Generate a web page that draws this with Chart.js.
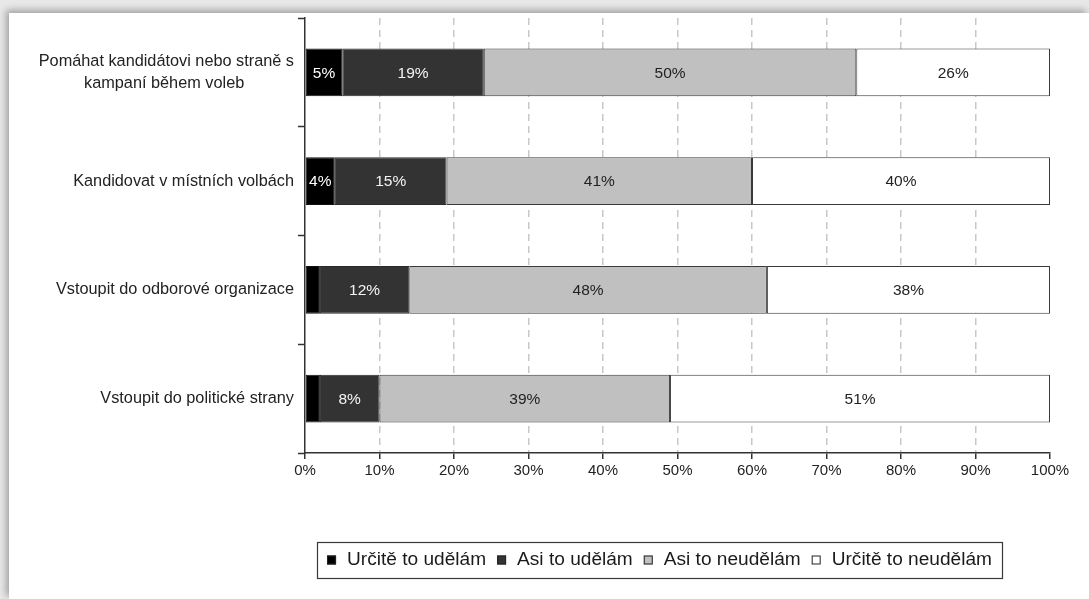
<!DOCTYPE html>
<html>
<head>
<meta charset="utf-8">
<script src="https://cdn.jsdelivr.net/npm/chart.js@4.4.1/dist/chart.umd.min.js"></script>
<style>
html,body{margin:0;padding:0;width:1089px;height:599px;overflow:hidden;background:#e8e8e8;}
#panel{position:absolute;left:9px;top:13px;width:1080px;height:586px;background:#fff;box-shadow:-3px -3px 7px rgba(0,0,0,0.3);}
canvas{display:block;}
</style>
</head>
<body>
<div id="panel"><canvas id="c" width="1080" height="586"></canvas></div>
<script>
// ---- data ----
const categories = [
  ['Pomáhat kandidátovi nebo straně s', 'kampaní během voleb'],
  'Kandidovat v místních volbách',
  'Vstoupit do odborové organizace',
  'Vstoupit do politické strany'
];
const seriesNames = ['Určitě to udělám', 'Asi to udělám', 'Asi to neudělám', 'Určitě to neudělám'];
const urciteUdelam   = [5, 4, 2, 2];
const asiUdelam      = [19, 15, 12, 8];
const asiNeudelam    = [50, 41, 48, 39];
const urciteNeudelam = [26, 40, 38, 51];
const xTickValues = [0, 10, 20, 30, 40, 50, 60, 70, 80, 90, 100];

// ---- styles ----
const FONT = 'Arial, "Liberation Sans", sans-serif';
const fills = ['#000000', '#333333', '#c0c0c0', '#ffffff'];
const borders = ['#111111', '#2a2a2a', '#3a3a3a', '#3a3a3a'];
const labelColors = ['#ffffff', '#f4f4f4', '#222222', '#222222'];
const seriesValues = [urciteUdelam, asiUdelam, asiNeudelam, urciteNeudelam];

const Y_FONT_SIZE = 16.3;
const measureCtx = document.createElement('canvas').getContext('2d');
measureCtx.font = Y_FONT_SIZE + 'px ' + FONT;
function centerLines(label) {
  if (!Array.isArray(label)) return label;
  const widths = label.map(l => measureCtx.measureText(l).width);
  const maxW = Math.max(...widths);
  const sp = measureCtx.measureText('\u00a0').width;
  return label.map((l, i) => l + '\u00a0'.repeat(Math.round((maxW - widths[i]) / 2 / sp)));
}

const barLabels = {
  id: 'barLabels',
  afterDatasetsDraw(chart) {
    const ctx = chart.ctx;
    ctx.save();
    ctx.font = '15.5px ' + FONT;
    ctx.textAlign = 'center';
    ctx.textBaseline = 'middle';
    chart.data.datasets.forEach((ds, i) => {
      const meta = chart.getDatasetMeta(i);
      meta.data.forEach((el, j) => {
        const v = ds.data[j];
        if (v < 4) return;
        const p = el.getProps(['x', 'y', 'base'], true);
        ctx.fillStyle = labelColors[i];
        ctx.fillText(v + '%', (p.x + p.base) / 2, p.y + 1);
      });
    });
    ctx.restore();
  }
};

const boxLegend = {
  id: 'boxLegend',
  afterDraw(chart, args, opts) {
    const ctx = chart.ctx;
    const bx = opts.x, by = opts.y, bw = opts.w, bh = opts.h;
    ctx.save();
    ctx.strokeStyle = '#3a3a3a';
    ctx.lineWidth = 1.2;
    ctx.strokeRect(bx + 0.5, by + 0.5, bw, bh);
    ctx.font = opts.fontSize + 'px ' + FONT;
    ctx.textBaseline = 'middle';
    const sq = 9, g1 = 11, g2 = 11;
    const items = chart.data.datasets.map((ds, i) => ({ text: ds.label, w: ctx.measureText(ds.label).width, fill: ds.backgroundColor }));
    const total = items.reduce((s, it) => s + sq + g1 + it.w, 0) + g2 * (items.length - 1);
    let x = bx + (bw - total) / 2;
    const cy = by + bh / 2;
    items.forEach(it => {
      ctx.fillStyle = it.fill;
      ctx.fillRect(x, cy - sq / 2, sq, sq);
      ctx.strokeStyle = '#222';
      ctx.lineWidth = 1;
      ctx.strokeRect(x + 0.5, cy - sq / 2 + 0.5, sq - 1, sq - 1);
      x += sq + g1;
      ctx.fillStyle = '#1a1a1a';
      ctx.fillText(it.text, x, cy);
      x += it.w + g2;
    });
    ctx.restore();
  }
};

new Chart(document.getElementById('c'), {
  type: 'bar',
  data: {
    labels: categories,
    datasets: seriesValues.map((d, i) => ({
      label: seriesNames[i],
      data: d,
      backgroundColor: fills[i],
      borderColor: borders[i],
      borderWidth: 1,
      borderSkipped: false,
      barPercentage: 0.44,
      categoryPercentage: 1
    }))
  },
  plugins: [barLabels, boxLegend],
  options: {
    indexAxis: 'y',
    responsive: false,
    animation: false,
    devicePixelRatio: 1,
    layout: { padding: { left: 0, right: 39, top: 5, bottom: 116 } },
    plugins: {
      legend: { display: false },
      tooltip: { enabled: false },
      boxLegend: { x: 308, y: 529, w: 685, h: 36, fontSize: 19.1 }
    },
    scales: {
      x: {
        stacked: true,
        min: 0,
        max: 100,
        afterBuildTicks: s => { s.ticks = xTickValues.map(v => ({ value: v })); },
        afterFit: s => { s.height = 30; },
        ticks: {
          callback: v => v + '%',
          font: { family: FONT, size: 15 },
          color: '#222',
          padding: 3,
          maxRotation: 0,
          autoSkip: false
        },
        grid: {
          color: c => (c.tick && (c.tick.value === 0 || c.tick.value === 100)) ? 'rgba(0,0,0,0)' : '#c8c8c8',
          lineWidth: 1.5,
          drawTicks: true,
          tickLength: 6,
          tickColor: '#333',
          tickWidth: 1.5,
          tickBorderDash: []
        },
        border: { display: true, color: '#333', width: 1.5, dash: [7, 5] }
      },
      y: {
        stacked: true,
        afterFit: s => { s.width = 296; s.paddingTop = 0; s.paddingBottom = 0; },
        ticks: {
          callback: function (v, i) { return centerLines(categories[i]); },
          font: { family: FONT, size: Y_FONT_SIZE, lineHeight: 1.375 },
          color: '#222',
          padding: 4
        },
        grid: {
          drawOnChartArea: false,
          drawTicks: true,
          tickLength: 7,
          tickColor: '#333',
          tickWidth: 1.5
        },
        border: { display: true, color: '#333', width: 1.5 }
      }
    }
  }
});
</script>
</body>
</html>
